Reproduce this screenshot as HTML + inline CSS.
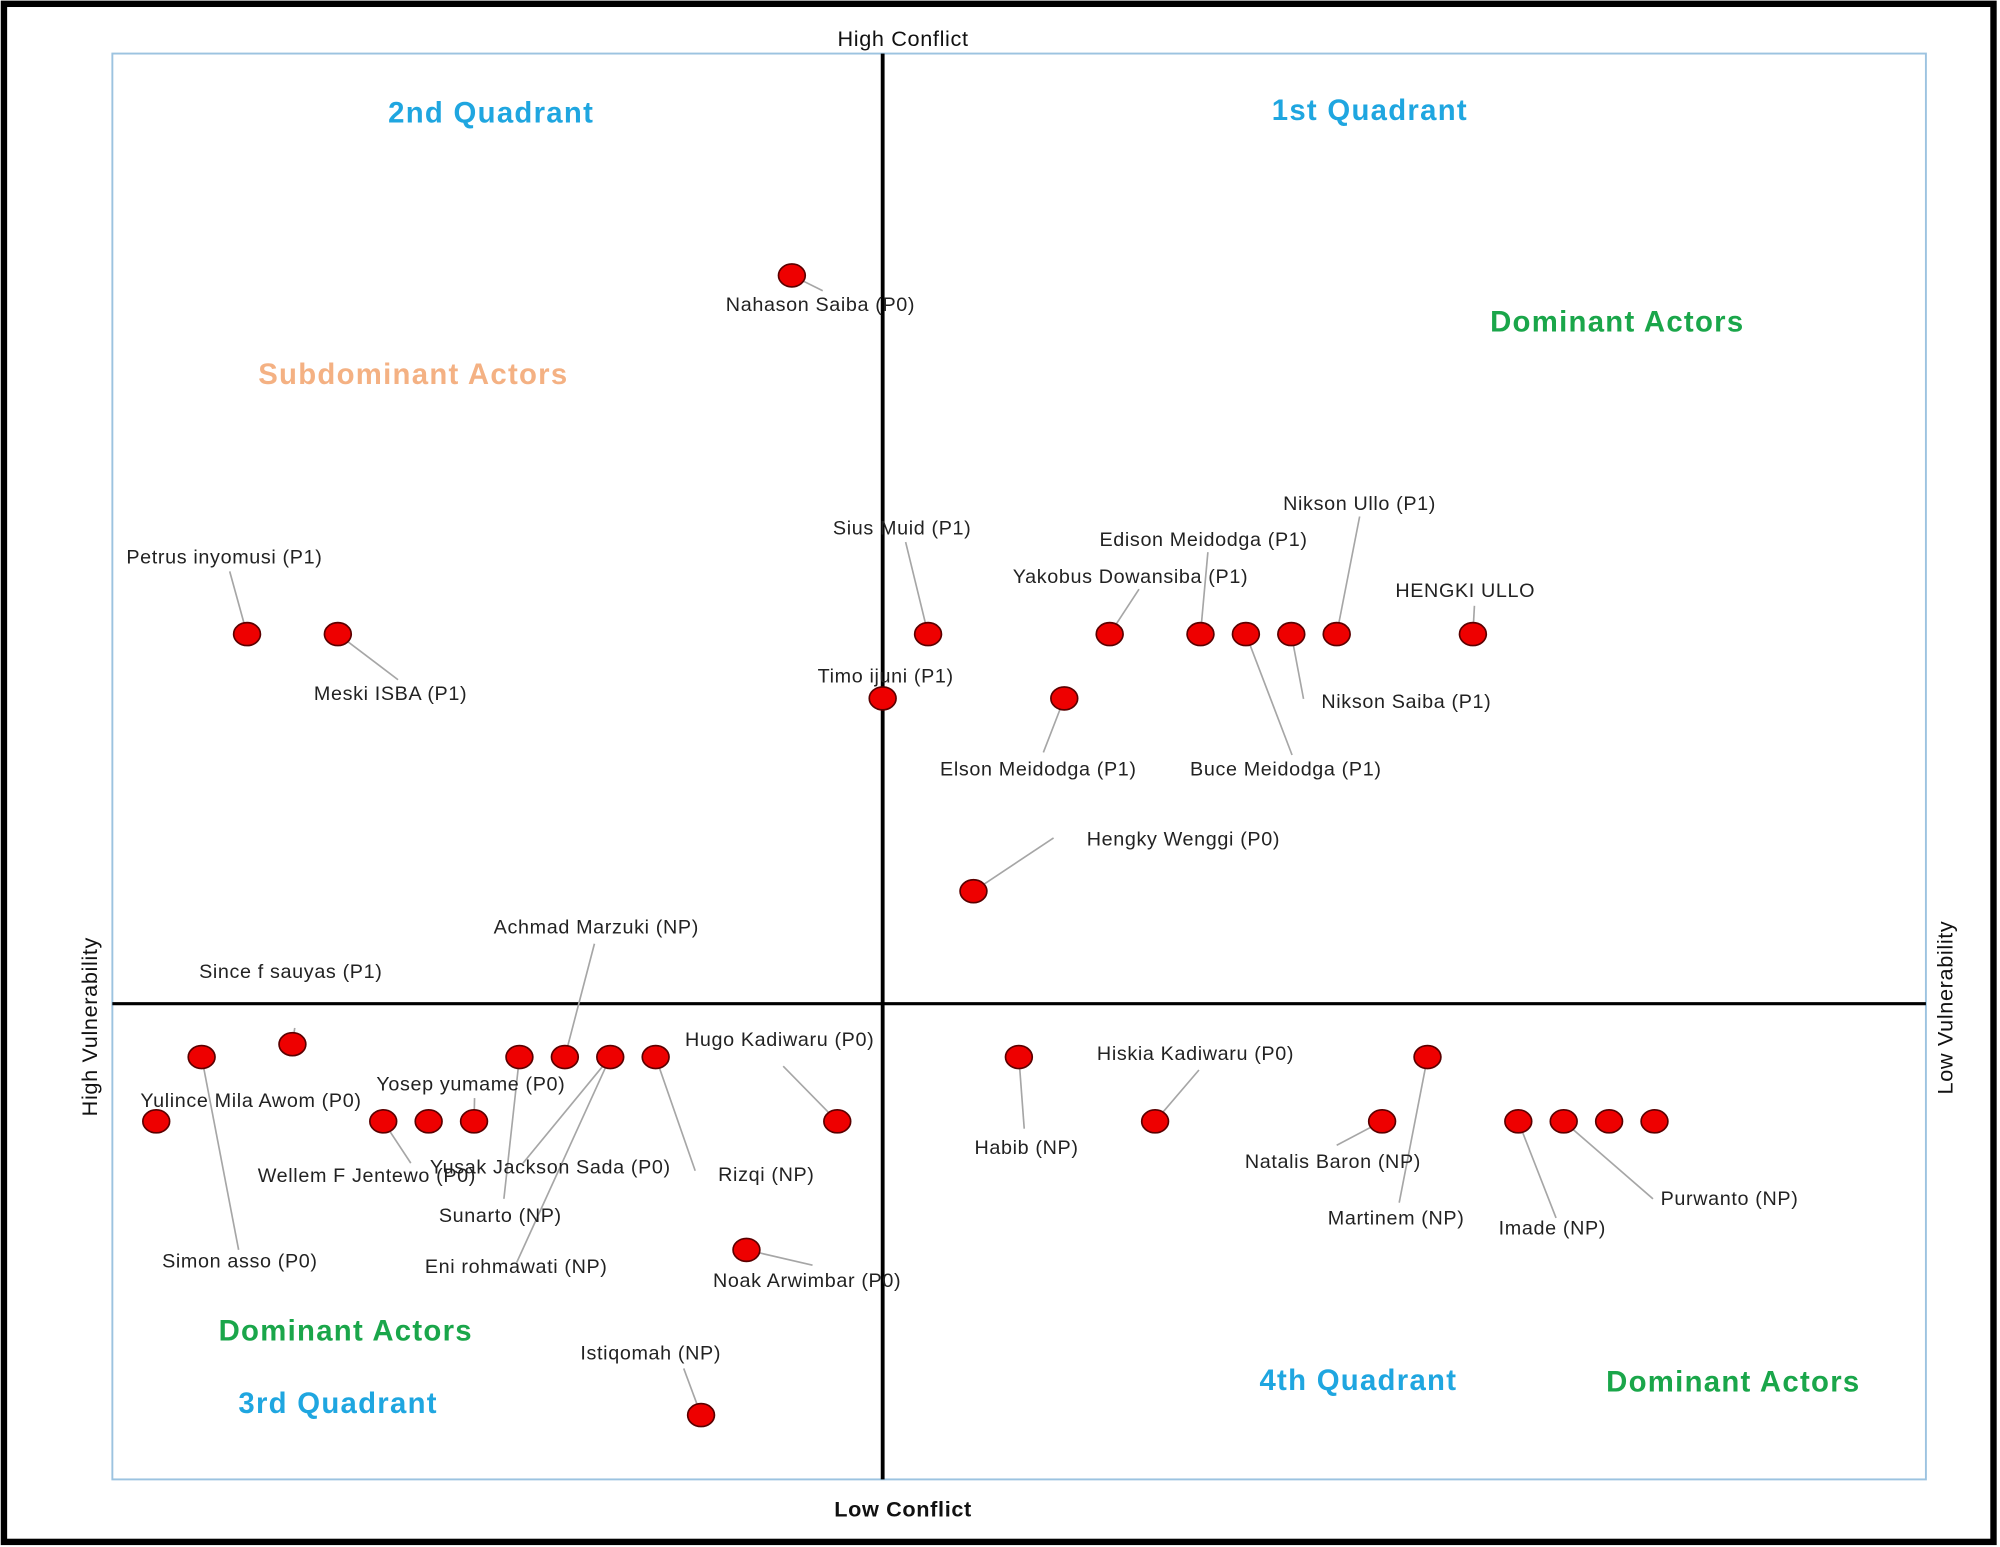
<!DOCTYPE html>
<html>
<head>
<meta charset="utf-8">
<style>
html,body{margin:0;padding:0;background:#fff;}
svg{display:block;}
text{font-family:"Liberation Sans",Arial,sans-serif;}
.lbl{font-size:15.5px;fill:#222;letter-spacing:0.5px;}
.qt{font-size:23px;font-weight:bold;letter-spacing:1px;}
</style>
</head>
<body>
<svg id="chart" width="2000" height="1547" viewBox="0 0 1568 1213">
  <rect x="3" y="3" width="1560" height="1206" fill="#fff" stroke="#000" stroke-width="5"/>
  <rect x="88" y="42" width="1422" height="1118" fill="none" stroke="#9cc3e0" stroke-width="1.5"/>
  <line x1="692" y1="42" x2="692" y2="1160" stroke="#000" stroke-width="3"/>
  <line x1="88" y1="787" x2="1510" y2="787" stroke="#000" stroke-width="2.5"/>

  <text x="708" y="36" text-anchor="middle" font-size="17" letter-spacing="0.5" fill="#111">High Conflict</text>
  <text x="708" y="1189" text-anchor="middle" font-size="17" font-weight="bold" letter-spacing="0.5" fill="#111">Low Conflict</text>
  <text transform="translate(76,805) rotate(-90)" text-anchor="middle" font-size="17" letter-spacing="0.5" fill="#111">High Vulnerability</text>
  <text transform="translate(1531,790) rotate(-90)" text-anchor="middle" font-size="17" letter-spacing="0.5" fill="#111">Low Vulnerability</text>

  <text class="qt" x="385" y="96" text-anchor="middle" fill="#1fa6e0">2nd Quadrant</text>
  <text class="qt" x="1074" y="94" text-anchor="middle" fill="#1fa6e0">1st Quadrant</text>
  <text class="qt" x="324" y="301" text-anchor="middle" fill="#f4b183">Subdominant  Actors</text>
  <text class="qt" x="1268" y="260" text-anchor="middle" fill="#1aa64a">Dominant  Actors</text>
  <text class="qt" x="271" y="1051" text-anchor="middle" fill="#1aa64a">Dominant  Actors</text>
  <text class="qt" x="265" y="1108" text-anchor="middle" fill="#1fa6e0">3rd Quadrant</text>
  <text class="qt" x="1065" y="1090" text-anchor="middle" fill="#1fa6e0">4th Quadrant</text>
  <text class="qt" x="1359" y="1091" text-anchor="middle" fill="#1aa64a">Dominant  Actors</text>
  <g id="leaders"></g>
  <g id="dots"></g>
  <g id="labels"></g>
</svg>
<script>
// Data: x = conflict score, y = vulnerability score
const actorX = [-2,-14,-12,1,5,7,8,9,10,13,0,4,2,-15,-13,-8,-7,-6,-5,3,12,-16,-11,-10,-9,-1,6,11,14,15,16,17,-3,-4];
const actorY = [11.33,5.75,5.75,5.75,5.75,5.75,5.75,5.75,5.75,5.75,4.75,4.75,1.75,-0.83,-0.63,-0.83,-0.83,-0.83,-0.83,-0.83,-0.83,-1.83,-1.83,-1.83,-1.83,-1.83,-1.83,-1.83,-1.83,-1.83,-1.83,-1.83,-3.83,-6.4];

function xScale(v){return 692+v*35.6;}
function yScale(v){return 787-v*50.4;}

const labelTexts = ["Nahason  Saiba (P0)","Petrus inyomusi (P1)","Meski ISBA  (P1)","Sius Muid (P1)","Edison Meidodga (P1)","Nikson Ullo (P1)","Yakobus Dowansiba (P1)","HENGKI ULLO","Timo ijuni (P1)","Nikson Saiba (P1)","Elson Meidodga (P1)","Buce Meidodga (P1)","Hengky Wenggi  (P0)","Achmad Marzuki (NP)","Since f sauyas (P1)","Hugo  Kadiwaru  (P0)","Hiskia Kadiwaru  (P0)","Yosep yumame (P0)","Yulince Mila Awom (P0)","Wellem F Jentewo (P0)","Yusak Jackson Sada (P0)","Rizqi (NP)","Sunarto (NP)","Habib (NP)","Natalis Baron (NP)","Martinem (NP)","Imade (NP)","Purwanto (NP)","Simon asso (P0)","Eni rohmawati (NP)","Noak Arwimbar  (P0)","Istiqomah  (NP)"];
const labelLayout = [
 [569,244,0,645,228],[99,442,1,180,448],[246,549,2,312,533],[653,419,3,710,425],[862,428,5,947,433],
 [1006,400,8,1066,405],[794,457,4,893,462],[1094,468,9,1156,475],[641,535,-1,0,0],[1036,555,7,1022,548],
 [737,608,11,818,590],[933,608,6,1013,592],[852,663,12,826,657],[387,732,16,466,740],[156,767,14,231,806],
 [537,820,25,614,836],[860,831,26,940,839],[295,855,24,372,861],[110,868,-1,0,0],[202,927,22,322,912],
 [337,920,17,410,912],[563,926,18,545,918],[344,958,15,395,940],[764,905,19,803,885],[976,916,27,1048,898],
 [1041,960,20,1097,943],[1175,968,28,1220,955],[1302,945,29,1296,940],[127,994,13,187,980],[333,998,17,405,990],
 [559,1009,32,637,992],[455,1066,33,536,1073]
];
const NS="http://www.w3.org/2000/svg";
const gL=document.getElementById('leaders'), gD=document.getElementById('dots'), gT=document.getElementById('labels');
labelLayout.forEach((l,i)=>{
  if(l[2]>=0){
    const ln=document.createElementNS(NS,'line');
    ln.setAttribute('x1',xScale(actorX[l[2]]));ln.setAttribute('y1',yScale(actorY[l[2]]));
    ln.setAttribute('x2',l[3]);ln.setAttribute('y2',l[4]);
    ln.setAttribute('stroke','#a6a6a6');ln.setAttribute('stroke-width','1.3');
    
    
    gL.appendChild(ln);
  }
  const t=document.createElementNS(NS,'text');
  t.setAttribute('x',l[0]);t.setAttribute('y',l[1]);t.setAttribute('class','lbl');
  t.textContent=labelTexts[i];
  
  
  gT.appendChild(t);
});
actorX.forEach((v,i)=>{
  const e=document.createElementNS(NS,'ellipse');
  e.setAttribute('cx',xScale(v));e.setAttribute('cy',yScale(actorY[i]));
  e.setAttribute('rx','10.5');e.setAttribute('ry','9');
  e.setAttribute('fill','#ee0000');e.setAttribute('stroke','#5a0000');e.setAttribute('stroke-width','1.3');
  
  
  gD.appendChild(e);
});
</script>
</body>
</html>
